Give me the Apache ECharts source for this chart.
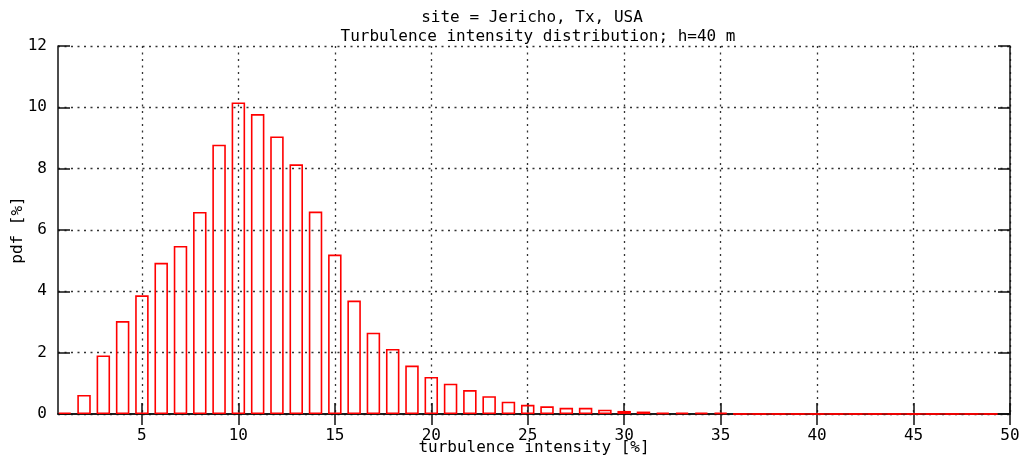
<!DOCTYPE html>
<html>
<head>
<meta charset="utf-8">
<script src="https://cdn.jsdelivr.net/npm/echarts@6/dist/echarts.min.js"></script>
<style>
  html, body { margin: 0; padding: 0; background: #fff; }
  #chart { width: 1021px; height: 460px; }
</style>
</head>
<body>
<div id="chart"></div>
<script>
// Turbulence intensity bins (%) and their probability density (%)
const bins = [1, 2, 3, 4, 5, 6, 7, 8, 9, 10,
              11, 12, 13, 14, 15, 16, 17, 18, 19, 20,
              21, 22, 23, 24, 25, 26, 27, 28, 29, 30,
              31, 32, 33, 34, 35, 36, 37, 38, 39, 40,
              41, 42, 43, 44, 45, 46, 47, 48, 49];
const pdf = [0.05, 0.62, 1.91, 3.03, 3.87, 4.93, 5.48, 6.59, 8.78, 10.16,
             9.78, 9.05, 8.14, 6.60, 5.20, 3.70, 2.65, 2.12, 1.58, 1.21,
             0.99, 0.78, 0.58, 0.40, 0.30, 0.25, 0.20, 0.20, 0.14, 0.10,
             0.08, 0.04, 0.04, 0.04, 0.04, 0, 0, 0, 0, 0,
             0, 0, 0, 0, 0, 0, 0, 0, 0];
const xTicks = [5, 10, 15, 20, 25, 30, 35, 40, 45, 50];
const yTicks = [0, 2, 4, 6, 8, 10, 12];
const titleLines = ['site = Jericho, Tx, USA', 'Turbulence intensity distribution; h=40 m'];
const xName = 'turbulence intensity [%]';
const yName = 'pdf [%]';

const BOX = 0.7;                 // box width as a fraction of the bin spacing
const X_MIN = bins[0] - BOX / 2; // the first box starts at the left edge
const X_MAX = 50;
const FONT = '"DejaVu Sans Mono", "Liberation Mono", monospace';

// Flat run of empty bins, drawn as one red line along the baseline
const zeroBins = bins.filter((b, i) => pdf[i] === 0);
const baseline = zeroBins.length
  ? [[zeroBins[0] - BOX / 2, 0], [zeroBins[zeroBins.length - 1] + BOX / 2, 0]]
  : [];

const gridLine = { show: true, lineStyle: { color: '#333', width: 1.3, type: [2, 4.5] } };
const frame = { show: true, lineStyle: { color: '#111', width: 1.5 } };
const tickLine = { color: '#111', width: 1.5 };
const labelStyle = { color: '#000', fontFamily: FONT, fontSize: 16 };

const chart = echarts.init(document.getElementById('chart'), null, { renderer: 'canvas' });
chart.setOption({
  animation: false,
  backgroundColor: '#fff',
  grid: { left: 58, right: 11, top: 46, bottom: 46, containLabel: false, outerBoundsMode: 'none' },
  graphic: [
    { type: 'text', x: 532, y: 18, style: { text: titleLines[0], fill: '#000', font: '16px ' + FONT, textAlign: 'center', textVerticalAlign: 'middle' } },
    { type: 'text', x: 538, y: 37, style: { text: titleLines[1], fill: '#000', font: '16px ' + FONT, textAlign: 'center', textVerticalAlign: 'middle' } }
  ],
  xAxis: [
    {
      type: 'value', min: X_MIN, max: X_MAX, position: 'bottom',
      name: xName, nameLocation: 'middle', nameGap: 26, nameMoveOverlap: false,
      nameTextStyle: labelStyle,
      axisLine: frame,
      axisTick: { show: true, inside: true, length: 11, customValues: xTicks, lineStyle: tickLine },
      axisLabel: Object.assign({ customValues: xTicks, margin: 14 }, labelStyle),
      splitLine: gridLine
    },
    {
      type: 'value', min: X_MIN, max: X_MAX, position: 'top',
      axisLine: frame,
      axisTick: { show: true, inside: true, length: 11, customValues: xTicks, lineStyle: tickLine },
      axisLabel: { show: false },
      splitLine: { show: false }
    }
  ],
  yAxis: [
    {
      type: 'value', min: 0, max: 12, interval: 2, position: 'left',
      name: yName, nameLocation: 'middle', nameRotate: 90, nameGap: 32, nameMoveOverlap: false,
      nameTextStyle: labelStyle,
      axisLine: frame,
      axisTick: { show: true, inside: true, length: 12, lineStyle: tickLine },
      axisLabel: Object.assign({ margin: 11, formatter: v => yTicks.includes(v) ? String(v) : '' }, labelStyle),
      splitLine: gridLine
    },
    {
      type: 'value', min: 0, max: 12, interval: 2, position: 'right',
      axisLine: frame,
      axisTick: { show: true, inside: true, length: 12, lineStyle: tickLine },
      axisLabel: { show: false },
      splitLine: { show: false }
    }
  ],
  series: [
    {
      type: 'bar',
      xAxisIndex: 0, yAxisIndex: 0,
      data: bins.map((b, i) => [b, pdf[i]]),
      barWidth: (BOX * 100) + '%',
      itemStyle: { color: 'rgba(0,0,0,0)', borderColor: '#ff0000', borderWidth: 1.6 },
      emphasis: { disabled: true },
      z: 3
    },
    {
      type: 'line',
      xAxisIndex: 0, yAxisIndex: 0,
      data: baseline,
      symbol: 'none',
      lineStyle: { color: '#ff0000', width: 1.6 },
      z: 3
    }
  ]
});
</script>
</body>
</html>
